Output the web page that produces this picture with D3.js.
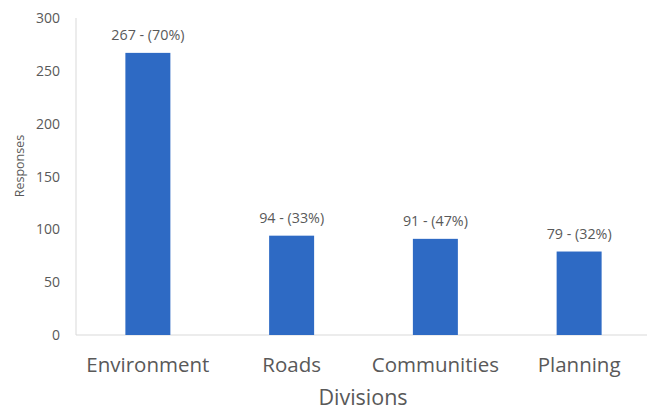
<!DOCTYPE html>
<html>
<head>
<meta charset="utf-8">
<script src="https://cdn.jsdelivr.net/npm/d3@7"></script>
<style>
  body { margin: 0; background: #fff; }
  text { font-family: "Open Sans", "Noto Sans", sans-serif; fill: #595959; }
</style>
</head>
<body>
<div id="chart"></div>
<script>
const divisions = ["Environment", "Roads", "Communities", "Planning"];
const responses = [267, 94, 91, 79];
const percents = [70, 33, 47, 32];
const yTicks = [0, 50, 100, 150, 200, 250, 300];

const w = 647, h = 411;

const svg = d3.select("#chart").append("svg")
  .attr("width", w)
  .attr("height", h);

const x = d3.scaleBand()
  .domain(divisions)
  .range([76, 651])
  .paddingInner(0.687)
  .paddingOuter(0.3435);

const y = d3.scaleLinear()
  .domain([0, 300])
  .range([335, 18]);

// y axis line
svg.append("line")
  .attr("x1", 76).attr("x2", 76)
  .attr("y1", y(300)).attr("y2", y(0))
  .attr("stroke", "#d9d9d9");

// baseline
svg.append("line")
  .attr("x1", 76).attr("x2", w)
  .attr("y1", y(0)).attr("y2", y(0))
  .attr("stroke", "#d9d9d9");

// tick labels
svg.selectAll(".ytick")
  .data(yTicks)
  .join("text")
  .attr("class", "ytick")
  .attr("x", 60)
  .attr("y", d => y(d) + 5)
  .attr("text-anchor", "end")
  .attr("font-size", 14)
  .text(d => d);

const rows = divisions.map((d, i) => ({ name: d, value: responses[i], pct: percents[i] }));

svg.selectAll(".bar")
  .data(rows)
  .join("rect")
  .attr("class", "bar")
  .attr("x", d => x(d.name))
  .attr("width", x.bandwidth())
  .attr("y", d => y(d.value))
  .attr("height", d => y(0) - y(d.value))
  .attr("fill", "#2e6ac4");

svg.selectAll(".val")
  .data(rows)
  .join("text")
  .attr("class", "val")
  .attr("x", d => x(d.name) + x.bandwidth() / 2)
  .attr("y", d => y(d.value) - 13)
  .attr("text-anchor", "middle")
  .attr("font-size", 14.3)
  .attr("fill", "#404040")
  .text(d => `${d.value} - (${d.pct}%)`);

svg.selectAll(".xlab")
  .data(divisions)
  .join("text")
  .attr("class", "xlab")
  .attr("x", d => x(d) + x.bandwidth() / 2)
  .attr("y", 372)
  .attr("text-anchor", "middle")
  .attr("font-size", 20.5)
  .text(d => d);

svg.append("text")
  .attr("x", 363)
  .attr("y", 405)
  .attr("text-anchor", "middle")
  .attr("font-size", 21.5)
  .text("Divisions");

svg.append("text")
  .attr("transform", "translate(24,166) rotate(-90)")
  .attr("text-anchor", "middle")
  .attr("font-size", 12.5)
  .text("Responses");
</script>
</body>
</html>
